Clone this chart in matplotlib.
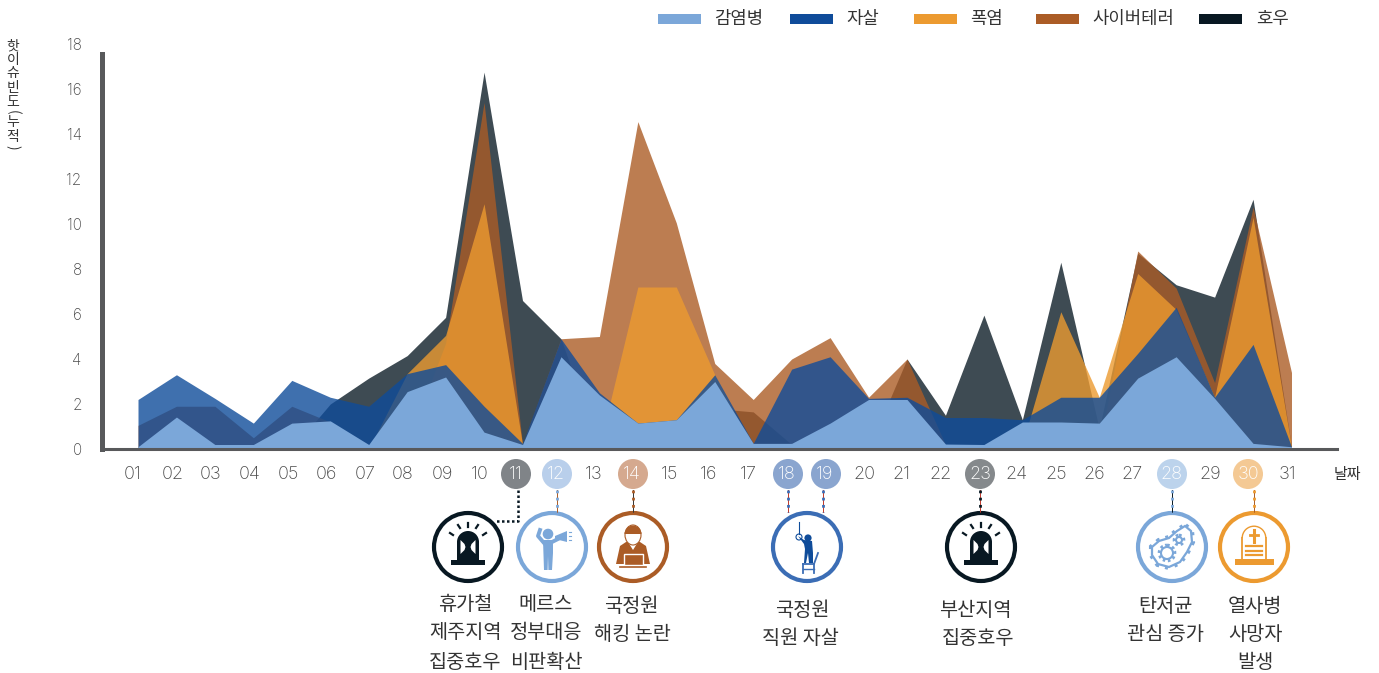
import matplotlib
matplotlib.use('Agg')
import matplotlib.pyplot as plt
from matplotlib.patches import Circle, Rectangle, Polygon, Ellipse, Wedge

plt.rcParams['font.family'] = ['Noto Sans CJK KR', 'DejaVu Sans']

days = list(range(1, 32))
day_labels = ['%02d' % d for d in days]

infection = [0.1, 1.42, 0.2, 0.2, 1.15, 1.25, 0.2, 2.55, 3.2, 0.75, 0.2, 4.1, 2.4, 1.15, 1.3, 3.0,
             0.25, 0.25, 1.15, 2.2, 2.2, 0.22, 0.2, 1.2, 1.2, 1.15, 3.15, 4.1, 2.25, 0.25, 0.1]
suicide = [2.2, 3.3, 2.25, 1.15, 3.05, 2.3, 1.9, 3.35, 3.75, 1.9, 0.25, 4.9, 2.5, 1.15, 1.3, 3.3,
           0.25, 3.55, 4.1, 2.25, 2.3, 1.4, 1.4, 1.3, 2.3, 2.3, 4.25, 6.3, 2.3, 4.65, 0.1]
heatwave = [0, 0, 0, 0, 0, 0, 0, 3.35, 5.05, 10.9, 0.2, 0.1, 0.1, 7.2, 7.2, 3.3,
            0, 0, 0, 0, 0, 0, 0, 0.2, 6.1, 2.3, 7.8, 6.2, 2.3, 10.3, 0.1]
cyber = [1.05, 1.9, 1.9, 0.5, 1.9, 1.2, 0.2, 0.2, 4.7, 15.4, 0.2, 4.9, 5.0, 14.55, 10.05, 3.8,
         2.2, 4.0, 4.95, 2.3, 4.0, 0.2, 0.2, 0.2, 0.2, 0.2, 8.8, 7.15, 2.95, 10.75, 3.4]
rain = [0, 0, 0, 0, 0, 2.0, 3.15, 4.15, 5.85, 16.75, 6.6, 4.9, 0.1, 0.1, 0.3, 1.8,
        1.65, 0.2, 0, 0, 4.0, 1.5, 5.95, 1.3, 8.3, 0.9, 8.7, 7.3, 6.75, 11.1, 0.1]

y_ticks = [0, 2, 4, 6, 8, 10, 12, 14, 16, 18]
names = ['감염병', '자살', '폭염', '사이버테러', '호우']
colors = ['#7BA7D9', '#0F4C9A', '#EC9A30', '#AB5C26', '#081822']

W, H = 1379, 673
GRAY = '#58595B'
TXT = '#333333'
NUM = '#4A4A4A'

# day 1 sits at px 138, one day is 38.45 px
def day_of(px):
    return (px - 138) / 38.45 + 1

fig = plt.figure(figsize=(W / 100, H / 100), dpi=100)
fig.patch.set_facecolor('white')

# pixel overlay for badges, icons and captions, sits under the chart
ov = fig.add_axes([0, 0, 1, 1], zorder=0)
ov.set_xlim(0, W)
ov.set_ylim(H, 0)
ov.axis('off')

ax = fig.add_axes([102.5 / W, (H - 449) / H, (1337 - 102.5) / W, 405 / H], zorder=1)
ax.patch.set_alpha(0)
ax.set_xlim(day_of(102.5), day_of(1337))
ax.set_ylim(0, 18)

ax.fill_between(days, rain, color=colors[4], alpha=0.78, lw=0)
ax.fill_between(days, cyber, color=colors[3], alpha=0.8, lw=0)
ax.fill_between(days, heatwave, color=colors[2], alpha=0.8, lw=0)
ax.fill_between(days, suicide, color=colors[1], alpha=0.8, lw=0)
ax.fill_between(days, infection, color=colors[0], lw=0)

for s in ['top', 'right']:
    ax.spines[s].set_visible(False)
ax.spines['left'].set_linewidth(3.6)
ax.spines['left'].set_color(GRAY)
ax.spines['left'].set_bounds(0, 17.55)
ax.spines['bottom'].set_linewidth(2.2)
ax.spines['bottom'].set_color(GRAY)

ax.set_yticks(y_ticks)
ax.set_yticklabels([str(v) for v in y_ticks], fontsize=11, color=NUM)
tick_px = [133, 173, 211, 250, 288, 326, 365, 403, 442, 480, 516, 556, 594, 632, 670, 709,
           748, 787, 825, 864, 901, 941, 980, 1017, 1056, 1094, 1132, 1171, 1210, 1248, 1287]
ax.set_xticks([day_of(p) for p in tick_px])
ax.set_xticklabels(day_labels, fontsize=13, color=NUM)
ax.tick_params(axis='y', length=0, pad=15)
ax.tick_params(axis='x', length=0, pad=12)
for lab in ax.get_xticklabels() + ax.get_yticklabels():
    lab.set_fontfamily(['Inter', 'DejaVu Sans'])
    lab.set_fontweight('light')
badge_days = [11, 12, 14, 18, 19, 23, 28, 30]
for d, lab in zip(days, ax.get_xticklabels()):
    if d in badge_days:
        lab.set_color('white')

# legend
swatch_x = [658, 790, 914, 1036, 1199]
label_x = [714, 846, 970, 1092, 1256]
for sx, lx, n, c in zip(swatch_x, label_x, names, colors):
    ov.add_patch(Rectangle((sx, 14), 43, 10, fc=c, lw=0))
    ov.text(lx, 19, n, fontsize=12.8, color=TXT, va='center', ha='left')

# y title, stacked by hand
title = '핫이슈빈도(누적)'
title_y = [46, 60, 73, 88, 102, 112, 122, 137, 147]
for ch, ty in zip(title, title_y):
    rot = -90 if ch in '()' else 0
    ov.text(13, ty, ch, fontsize=10, color=TXT, ha='center', va='center', rotation=rot)

ov.text(1347, 475, '날짜', fontsize=10.8, color=TXT, ha='center', va='center')

# badges behind the highlighted day numbers
badges = [(516, '#808488'), (557, '#B9CFEB'), (633, '#D5A98F'), (788, '#8AA5CF'),
          (826, '#8AA5CF'), (980, '#85898C'), (1172, '#BCD3EC'), (1248, '#F4C994')]
for bx, c in badges:
    ov.add_patch(Circle((bx, 474), 15, fc=c, lw=0))

# connectors
links = [(557, '#AB5C26', '#7BA7D9'), (633, '#333333', '#AB5C26'), (788, '#C0392B', '#3B6DB5'),
         (823, '#C0392B', '#3B6DB5'), (980, '#C0392B', '#081822'), (1172, '#081822', '#7BA7D9'),
         (1254, '#AB5C26', '#EC9A30')]
for lx, thin, dots in links:
    ov.plot([lx, lx], [490, 512], color=thin, lw=0.7)
    ov.plot([lx, lx], [490, 512], color=dots, lw=2, ls=(0, (1, 1.6)))
ov.plot([518, 518, 495], [490, 521, 521], color='#081822', lw=1.8, ls=(0, (1, 1)))


def ring(cx, c):
    ov.add_patch(Circle((cx, 547), 34, fc='white', ec=c, lw=3))


def siren(cx):
    c = '#081822'
    ring(cx, c)
    cy = 547
    ov.add_patch(Rectangle((cx - 17, cy + 13), 34, 5, fc=c, lw=0))
    ov.add_patch(Rectangle((cx - 11, cy - 5), 22, 19, fc=c, lw=0))
    ov.add_patch(Wedge((cx, cy - 5), 11, 180, 360, fc=c, lw=0))
    ov.add_patch(Polygon([(cx - 7.5, cy - 7), (cx - 3.5, cy - 3), (cx - 2.5, cy), (cx - 3.5, cy + 3), (cx - 7.5, cy + 7)], fc='white', lw=0))
    ov.add_patch(Polygon([(cx + 7.5, cy - 7), (cx + 3.5, cy - 3), (cx + 2.5, cy), (cx + 3.5, cy + 3), (cx + 7.5, cy + 7)], fc='white', lw=0))
    rays = [(-18, -14, -15, -12), (-10, -22, -8, -19), (0, -24, 0, -20), (10, -22, 8, -19), (18, -14, 15, -12)]
    for dx0, dy0, dx1, dy1 in rays:
        ov.plot([cx + dx0, cx + dx1], [cy + dy0, cy + dy1], color=c, lw=1.6)


def megaphone(cx):
    c = '#7BA7D9'
    ring(cx, c)
    cy = 547
    ov.add_patch(Circle((cx - 4, cy - 13), 5.3, fc=c, lw=0))
    ov.add_patch(Polygon([(cx - 9, cy - 7), (cx + 1, cy - 7), (cx + 1, cy + 6), (cx, cy + 23),
                          (cx - 3.6, cy + 23), (cx - 4, cy + 9), (cx - 4.4, cy + 23), (cx - 8, cy + 23)], fc=c, lw=0))
    ov.plot([cx - 8, cx - 14, cx - 12], [cy - 4, cy - 11, cy - 17], color=c, lw=2.8)
    ov.plot([cx, cx + 6], [cy - 5, cy - 8], color=c, lw=2.8)
    ov.add_patch(Polygon([(cx + 3, cy - 11), (cx + 15, cy - 16), (cx + 15, cy - 5), (cx + 3, cy - 8)], fc=c, lw=0))
    for dy in [-15, -11, -7]:
        ov.plot([cx + 16.5, cx + 19], [cy + dy, cy + dy], color=c, lw=0.8)


def hacker(cx):
    c = '#AB5C26'
    ring(cx, c)
    cy = 547
    ov.add_patch(Polygon([(cx - 7, cy - 5), (cx + 7, cy - 5), (cx + 13, cy - 1), (cx + 17, cy + 17),
                          (cx - 17, cy + 17), (cx - 13, cy - 1)], fc=c, lw=0))
    ov.add_patch(Polygon([(cx - 5, cy - 5), (cx + 5, cy - 5), (cx, cy + 3)], fc='white', lw=0))
    ov.add_patch(Ellipse((cx, cy - 12), 16, 20, fc='white', ec=c, lw=0.8))
    ov.add_patch(Wedge((cx, cy - 13), 8.5, 180, 360, fc=c, lw=0))
    ov.add_patch(Rectangle((cx - 9.5, cy + 7), 19, 11, fc=c, ec='white', lw=1))
    ov.plot([cx - 13, cx + 13], [cy + 19.5, cy + 19.5], color=c, lw=1.2)


def hanged(cx):
    c = '#3B6DB5'
    d = '#0F4C9A'
    ring(cx, c)
    cy = 547
    ov.plot([cx - 8, cx - 8], [cy - 25, cy - 13], color=d, lw=0.8)
    ov.add_patch(Circle((cx - 8, cy - 10), 3, fc='none', ec=d, lw=0.8))
    ov.add_patch(Circle((cx + 1, cy - 9), 3.6, fc=d, lw=0))
    ov.add_patch(Polygon([(cx - 9, cy - 11), (cx - 3, cy - 7), (cx + 5, cy - 6), (cx + 6, cy + 6),
                          (cx + 6, cy + 16), (cx + 2, cy + 16), (cx + 1, cy + 6), (cx - 1, cy + 16),
                          (cx - 3, cy + 16), (cx - 2, cy + 2), (cx - 3, cy - 3)], fc=d, lw=0))
    ov.plot([cx - 4, cx + 7, cx + 11], [cy + 17, cy + 17, cy + 6], color=c, lw=1.3)
    ov.plot([cx - 4, cx - 4], [cy + 17, cy + 26], color=c, lw=1.3)
    ov.plot([cx + 7, cx + 7], [cy + 17, cy + 26], color=c, lw=1.3)
    ov.plot([cx - 4, cx + 7], [cy + 22, cy + 22], color=c, lw=1)


def germ(cx):
    c = '#7BA7D9'
    ring(cx, c)
    cy = 547
    blob = [(cx + 13, cy - 21), (cx + 19, cy - 16), (cx + 20, cy - 5), (cx + 15, cy + 5), (cx + 8, cy + 15),
            (cx - 3, cy + 20), (cx - 14, cy + 17), (cx - 20, cy + 8), (cx - 20, cy), (cx - 13, cy - 6),
            (cx - 3, cy - 9), (cx + 5, cy - 16)]
    ov.add_patch(Polygon(blob, fc='none', ec=c, lw=4.4, ls=(0, (0.5, 1))))
    ov.add_patch(Polygon(blob, fc='white', ec=c, lw=1.6))
    for gx, gy, r in [(-5, 6, 6), (7, -7, 3)]:
        ov.add_patch(Circle((cx + gx, cy + gy), r + 1.5, fc='none', ec=c, lw=2.6, ls=(0, (0.7, 0.7))))
        ov.add_patch(Circle((cx + gx, cy + gy), r, fc='white', ec=c, lw=1.5))


def tomb(cx):
    c = '#EC9A30'
    ring(cx, c)
    cy = 547
    ov.add_patch(Rectangle((cx - 19.5, cy + 12), 39, 6, fc=c, lw=0))
    ov.plot([cx - 12, cx - 12], [cy + 12, cy - 9], color=c, lw=1.3)
    ov.plot([cx + 12, cx + 12], [cy + 12, cy - 9], color=c, lw=1.3)
    ov.add_patch(Wedge((cx, cy - 9), 12.5, 180, 360, width=1.4, fc=c, lw=0))
    ov.plot([cx, cx], [cy - 17, cy - 5], color=c, lw=2.2)
    ov.plot([cx - 4, cx + 4], [cy - 12.5, cy - 12.5], color=c, lw=2)
    for dy in [-1, 3.5, 8]:
        ov.plot([cx - 8, cx + 8], [cy + dy, cy + dy], color=c, lw=1.6)


siren(468)
megaphone(552)
hacker(633)
hanged(807)
siren(981)
germ(1172)
tomb(1254)

captions = [(465, 604, '휴가철'), (465, 633, '제주지역'), (465, 662, '집중호우'),
            (546, 604, '메르스'), (546, 633, '정부대응'), (546, 662, '비판확산'),
            (631, 607, '국정원'), (632, 635, '해킹 논란'),
            (802, 611, '국정원'), (800, 638, '직원 자살'),
            (975, 611, '부산지역'), (978, 638, '집중호우'),
            (1165, 607, '탄저균'), (1165, 635, '관심 증가'),
            (1255, 607, '열사병'), (1255, 635, '사망자'), (1255, 662, '발생')]
for tx, ty, s in captions:
    ov.text(tx, ty, s, fontsize=14.2, color=TXT, ha='center', va='center')

fig.savefig('out.png', dpi=100)
